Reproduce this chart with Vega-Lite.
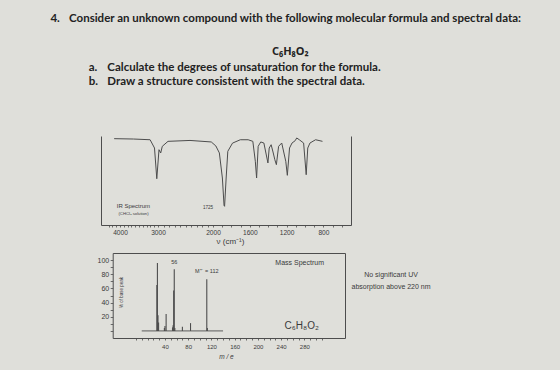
{
  "$schema": "https://vega.github.io/schema/vega-lite/v6.json",
  "width": 560,
  "height": 370,
  "autosize": {"type": "none"},
  "padding": 0,
  "background": "#dfdfda",
  "config": {
    "view": {"stroke": null},
    "axis": {"grid": false, "domainColor": "#4d4d4d", "domainWidth": 1, "tickColor": "#4d4d4d", "tickWidth": 0.8, "labelColor": "#3a3a3a", "titleColor": "#3a3a3a", "labelFont": "Liberation Sans", "titleFont": "Liberation Sans", "titleFontWeight": "normal", "labelOverlap": false, "labelFlush": false},
    "text": {"font": "Liberation Sans", "color": "#3a3a3a"}
  },
  "layer": [
    {
      "data": {"values": [{"number": "4.", "question": "Consider an unknown compound with the following molecular formula and spectral data:", "formula": "C₆H₈O₂", "partA": "a.", "taskA": "Calculate the degrees of unsaturation for the formula.", "partB": "b.", "taskB": "Draw a structure consistent with the spectral data.", "uvNote": "No significant UV\nabsorption above 220 nm"}]},
      "layer": [
        {"mark": {"type": "text", "align": "left", "baseline": "middle", "font": "Lato", "fontSize": 11.5, "fontWeight": "bold", "color": "#222222"},
         "encoding": {"text": {"field": "number"}, "x": {"datum": 54, "type": "quantitative", "scale": {"domain": [0, 560], "range": [0, 560]}, "axis": null}, "y": {"datum": 21, "type": "quantitative", "scale": {"domain": [0, 370], "range": [0, 370]}, "axis": null}}},
        {"mark": {"type": "text", "align": "left", "baseline": "middle", "font": "Lato", "fontSize": 11.5, "fontWeight": "bold", "color": "#222222"},
         "encoding": {"text": {"field": "question"}, "x": {"datum": 74, "type": "quantitative"}, "y": {"datum": 21, "type": "quantitative"}}},
        {"mark": {"type": "text", "align": "center", "baseline": "middle", "font": "Noto Sans", "fontSize": 11, "fontWeight": "bold", "color": "#222222"},
         "encoding": {"text": {"field": "formula"}, "x": {"datum": 311, "type": "quantitative"}, "y": {"datum": 56, "type": "quantitative"}}},
        {"mark": {"type": "text", "align": "left", "baseline": "middle", "font": "Lato", "fontSize": 11.5, "fontWeight": "bold", "color": "#222222"},
         "encoding": {"text": {"field": "partA"}, "x": {"datum": 95, "type": "quantitative"}, "y": {"datum": 73, "type": "quantitative"}}},
        {"mark": {"type": "text", "align": "left", "baseline": "middle", "font": "Lato", "fontSize": 11.5, "fontWeight": "bold", "color": "#222222"},
         "encoding": {"text": {"field": "taskA"}, "x": {"datum": 115, "type": "quantitative"}, "y": {"datum": 73, "type": "quantitative"}}},
        {"mark": {"type": "text", "align": "left", "baseline": "middle", "font": "Lato", "fontSize": 11.5, "fontWeight": "bold", "color": "#222222"},
         "encoding": {"text": {"field": "partB"}, "x": {"datum": 95, "type": "quantitative"}, "y": {"datum": 89, "type": "quantitative"}}},
        {"mark": {"type": "text", "align": "left", "baseline": "middle", "font": "Lato", "fontSize": 11.5, "fontWeight": "bold", "color": "#222222"},
         "encoding": {"text": {"field": "taskB"}, "x": {"datum": 115, "type": "quantitative"}, "y": {"datum": 89, "type": "quantitative"}}},
        {"mark": {"type": "text", "align": "center", "baseline": "middle", "fontSize": 7, "lineBreak": "\n", "lineHeight": 11.6, "color": "#3a3a3a"},
         "encoding": {"text": {"field": "uvNote"}, "x": {"datum": 419, "type": "quantitative"}, "y": {"datum": 297.5, "type": "quantitative"}}}
      ]
    },
    {
      "layer": [
        {
          "data": {"values": [
            {"wavenumber": 4154, "transmittance": 97}, {"wavenumber": 3646, "transmittance": 96.6}, {"wavenumber": 3208, "transmittance": 95.8},
            {"wavenumber": 3092, "transmittance": 86.5}, {"wavenumber": 3032, "transmittance": 52}, {"wavenumber": 2982, "transmittance": 84.6},
            {"wavenumber": 2951, "transmittance": 80.9}, {"wavenumber": 2922, "transmittance": 88.4}, {"wavenumber": 2818, "transmittance": 94},
            {"wavenumber": 2418, "transmittance": 95}, {"wavenumber": 2031, "transmittance": 93.3}, {"wavenumber": 1969, "transmittance": 88.8},
            {"wavenumber": 1931, "transmittance": 81}, {"wavenumber": 1898, "transmittance": 52.8}, {"wavenumber": 1880, "transmittance": 22},
            {"wavenumber": 1874, "transmittance": 21}, {"wavenumber": 1857, "transmittance": 52.8}, {"wavenumber": 1839, "transmittance": 82.8},
            {"wavenumber": 1788, "transmittance": 92}, {"wavenumber": 1703, "transmittance": 95.8}, {"wavenumber": 1618, "transmittance": 95.8},
            {"wavenumber": 1567, "transmittance": 94}, {"wavenumber": 1540, "transmittance": 71.6}, {"wavenumber": 1526, "transmittance": 52.8},
            {"wavenumber": 1509, "transmittance": 88.4}, {"wavenumber": 1481, "transmittance": 93.3}, {"wavenumber": 1447, "transmittance": 92.1},
            {"wavenumber": 1403, "transmittance": 69.7}, {"wavenumber": 1389, "transmittance": 86.5}, {"wavenumber": 1368, "transmittance": 90.2},
            {"wavenumber": 1345, "transmittance": 80.9}, {"wavenumber": 1328, "transmittance": 73.4}, {"wavenumber": 1311, "transmittance": 67.8},
            {"wavenumber": 1287, "transmittance": 88.4}, {"wavenumber": 1253, "transmittance": 92.1}, {"wavenumber": 1209, "transmittance": 71.6},
            {"wavenumber": 1192, "transmittance": 55.8}, {"wavenumber": 1168, "transmittance": 86.5}, {"wavenumber": 1141, "transmittance": 92.1},
            {"wavenumber": 1107, "transmittance": 94.7}, {"wavenumber": 1090, "transmittance": 97.8}, {"wavenumber": 1062, "transmittance": 95.8},
            {"wavenumber": 1015, "transmittance": 92.1}, {"wavenumber": 987, "transmittance": 56.5}, {"wavenumber": 970, "transmittance": 86.5},
            {"wavenumber": 946, "transmittance": 92.1}, {"wavenumber": 885, "transmittance": 95.8}, {"wavenumber": 810, "transmittance": 94}
          ]},
          "mark": {"type": "line", "color": "#4d4d4d", "strokeWidth": 1},
          "encoding": {
            "x": {"field": "wavenumber", "type": "quantitative",
                  "scale": {"domain": [4316, 3000, 2000, 588], "range": [101, 158, 213, 351]},
                  "axis": {"orient": "bottom", "offset": -145, "values": [4300, 4200, 4100, 4000, 3900, 3800, 3700, 3600, 3500, 3400, 3300, 3200, 3100, 3000, 2900, 2800, 2700, 2600, 2500, 2400, 2300, 2200, 2100, 2000, 1900, 1800, 1700, 1600, 1500, 1400, 1300, 1200, 1100, 1000, 900, 800, 700, 600],
                           "format": "d", "labelExpr": "indexof([4000, 3000, 2000, 1600, 1200, 800], datum.value) >= 0 ? datum.label : ''",
                           "tickSize": 2, "labelFontSize": 6.6, "labelPadding": 2,
                           "title": "ν (cm⁻¹)", "titleFontSize": 8, "titleX": 230, "titleY": 16, "titleAlign": "center", "titleBaseline": "middle"}},
            "y": {"field": "transmittance", "type": "quantitative",
                  "scale": {"domain": [0, 100], "range": [225, 136]},
                  "axis": {"orient": "left", "offset": -101, "labels": false, "ticks": false, "title": null}}
          }
        },
        {
          "data": {"values": [{"label": "IR Spectrum", "wavenumber": 4085, "transmittance": 21.3}]},
          "mark": {"type": "text", "align": "left", "baseline": "middle", "fontSize": 6},
          "encoding": {"text": {"field": "label"},
                       "x": {"field": "wavenumber", "type": "quantitative", "axis": null},
                       "y": {"field": "transmittance", "type": "quantitative", "axis": {"orient": "right", "offset": -209, "labels": false, "ticks": false, "title": null}}}
        },
        {
          "data": {"values": [{"label": "(CHCl₃ solution)", "wavenumber": 4040, "transmittance": 12.4}]},
          "mark": {"type": "text", "align": "left", "baseline": "middle", "fontSize": 4.2},
          "encoding": {"text": {"field": "label"},
                       "x": {"field": "wavenumber", "type": "quantitative", "axis": null},
                       "y": {"field": "transmittance", "type": "quantitative", "axis": null}}
        },
        {
          "data": {"values": [{"label": "1725", "wavenumber": 2091, "transmittance": 19}]},
          "mark": {"type": "text", "align": "center", "baseline": "middle", "fontSize": 4.6},
          "encoding": {"text": {"field": "label"},
                       "x": {"field": "wavenumber", "type": "quantitative", "axis": null},
                       "y": {"field": "transmittance", "type": "quantitative", "axis": null}}
        }
      ],
      "resolve": {"axis": {"x": "independent", "y": "independent"}}
    },
    {
      "layer": [
        {
          "data": {"values": [
            {"mz": 26, "abundance": 65}, {"mz": 27, "abundance": 96}, {"mz": 28, "abundance": 22}, {"mz": 29, "abundance": 12},
            {"mz": 39, "abundance": 4}, {"mz": 40, "abundance": 7}, {"mz": 42, "abundance": 24},
            {"mz": 53, "abundance": 5}, {"mz": 54, "abundance": 8}, {"mz": 55, "abundance": 57}, {"mz": 56, "abundance": 87}, {"mz": 57, "abundance": 4},
            {"mz": 70, "abundance": 6}, {"mz": 84, "abundance": 11}, {"mz": 112, "abundance": 73}, {"mz": 113, "abundance": 4}
          ]},
          "mark": {"type": "rule", "color": "#4d4d4d", "strokeWidth": 1.1},
          "encoding": {
            "x": {"field": "mz", "type": "quantitative",
                  "scale": {"domain": [-14.5, 318.5], "range": [112.7, 345]},
                  "axis": {"orient": "bottom", "offset": -32, "values": [-10, 0, 10, 20, 30, 40, 50, 60, 70, 80, 90, 100, 110, 120, 130, 140, 150, 160, 170, 180, 190, 200, 210, 220, 230, 240, 250, 260, 270, 280, 290, 300, 310],
                           "labelExpr": "datum.value > 0 && datum.value % 40 === 0 ? datum.label : ''",
                           "tickSize": 2, "labelFontSize": 6, "labelPadding": 3,
                           "title": "m / e", "titleFontStyle": "italic", "titleFontSize": 6.5, "titleX": 226, "titleY": 18.3, "titleAlign": "center", "titleBaseline": "middle"}},
            "y": {"field": "abundance", "type": "quantitative",
                  "scale": {"domain": [-6, 109], "range": [338, 253]},
                  "axis": {"orient": "left", "offset": -112.7, "values": [0, 10, 20, 30, 40, 50, 60, 70, 80, 90, 100],
                           "labelExpr": "datum.value > 0 && datum.value % 20 === 0 ? datum.label : ''",
                           "tickSize": 2.5, "labelFontSize": 7, "labelPadding": 1.5,
                           "title": "% of base peak", "titleFontSize": 4.5, "titleX": 9, "titleY": 292, "titleAngle": -90, "titleAlign": "center", "titleBaseline": "middle"}},
            "y2": {"datum": 0}
          }
        },
        {
          "data": {"values": [{"baseline": "spectrum baseline"}]},
          "mark": {"type": "rule", "color": "#4d4d4d", "strokeWidth": 0.9},
          "encoding": {"x": {"datum": 0, "type": "quantitative", "axis": null}, "x2": {"datum": 140}, "y": {"datum": 0, "type": "quantitative", "axis": null}}
        },
        {
          "data": {"values": [{"label": "56", "mz": 56, "abundance": 98}]},
          "mark": {"type": "text", "align": "center", "baseline": "middle", "fontSize": 5.5},
          "encoding": {"text": {"field": "label"},
                       "x": {"field": "mz", "type": "quantitative", "axis": {"orient": "top", "offset": -253, "labels": false, "ticks": false, "title": null}},
                       "y": {"field": "abundance", "type": "quantitative", "axis": {"orient": "right", "offset": -215, "labels": false, "ticks": false, "title": null}}}
        },
        {
          "data": {"values": [{"label": "M⁺˙ = 112", "mz": 112, "abundance": 84}]},
          "mark": {"type": "text", "align": "center", "baseline": "middle", "fontSize": 5.5},
          "encoding": {"text": {"field": "label"}, "x": {"field": "mz", "type": "quantitative", "axis": null}, "y": {"field": "abundance", "type": "quantitative", "axis": null}}
        },
        {
          "data": {"values": [{"label": "Mass Spectrum", "mz": 313.8, "abundance": 95.5}]},
          "mark": {"type": "text", "align": "right", "baseline": "middle", "fontSize": 7},
          "encoding": {"text": {"field": "label"}, "x": {"field": "mz", "type": "quantitative", "axis": null}, "y": {"field": "abundance", "type": "quantitative", "axis": null}}
        },
        {
          "data": {"values": [{"label": "C₆H₈O₂", "mz": 275.5, "abundance": 7.5}]},
          "mark": {"type": "text", "align": "center", "baseline": "middle", "fontSize": 10},
          "encoding": {"text": {"field": "label"}, "x": {"field": "mz", "type": "quantitative", "axis": null}, "y": {"field": "abundance", "type": "quantitative", "axis": null}}
        }
      ],
      "resolve": {"axis": {"x": "independent", "y": "independent"}}
    }
  ],
  "resolve": {"scale": {"x": "independent", "y": "independent"}}
}
